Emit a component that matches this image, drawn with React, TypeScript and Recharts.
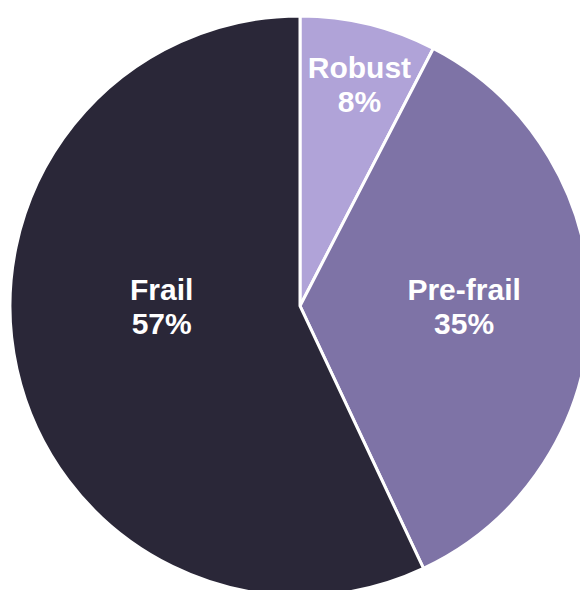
import React from "react";
import { PieChart, Pie, Cell } from "recharts";

const categories = ["Robust", "Pre-frail", "Frail"];
const values = [7.6, 35.4, 57];
const percentLabels = ["8%", "35%", "57%"];
const colors = ["#B0A3D8", "#7E73A6", "#2A2738"];
// label placement: radius fraction and angle override (degrees, recharts convention; null = midAngle)
const labelRadius = [0.792, 0.566, 0.477];
const labelAngle: (number | null)[] = [75, 0, 180];

const data = categories.map((name, i) => ({ name, value: values[i] }));

const RADIAN = Math.PI / 180;

const renderLabel = (props: any) => {
  const { cx, cy, midAngle, outerRadius, index } = props;
  const ang = labelAngle[index] ?? midAngle;
  const r = outerRadius * labelRadius[index];
  const x = cx + r * Math.cos(-ang * RADIAN);
  const y = cy + r * Math.sin(-ang * RADIAN);
  return (
    <text
      x={x}
      y={y}
      fill="#FFFFFF"
      textAnchor="middle"
      fontFamily="'Liberation Sans', Arial, sans-serif"
      fontWeight="bold"
      fontSize={30}
    >
      <tspan x={x} y={y - 17} dominantBaseline="central">
        {categories[index]}
      </tspan>
      <tspan x={x} y={y + 17} dominantBaseline="central">
        {percentLabels[index]}
      </tspan>
    </text>
  );
};

export default function App() {
  return (
    <>
      <style>{`html, body { overflow: hidden; }`}</style>
      <div
        style={{
          position: "fixed",
          left: 0,
          top: 0,
          width: 580,
          height: 590,
          overflow: "hidden",
          background: "#FFFFFF",
        }}
      >
        <PieChart width={580} height={590} margin={{ top: 0, right: 0, bottom: 0, left: 0 }}>
          <Pie
            data={data}
            dataKey="value"
            nameKey="name"
            cx={300}
            cy={306}
            outerRadius={290}
            innerRadius={0}
            startAngle={90}
            endAngle={-270}
            stroke="#FFFFFF"
            strokeWidth={3}
            label={renderLabel}
            labelLine={false}
            isAnimationActive={false}
          >
            {data.map((d, i) => (
              <Cell key={d.name} fill={colors[i]} />
            ))}
          </Pie>
        </PieChart>
      </div>
    </>
  );
}
